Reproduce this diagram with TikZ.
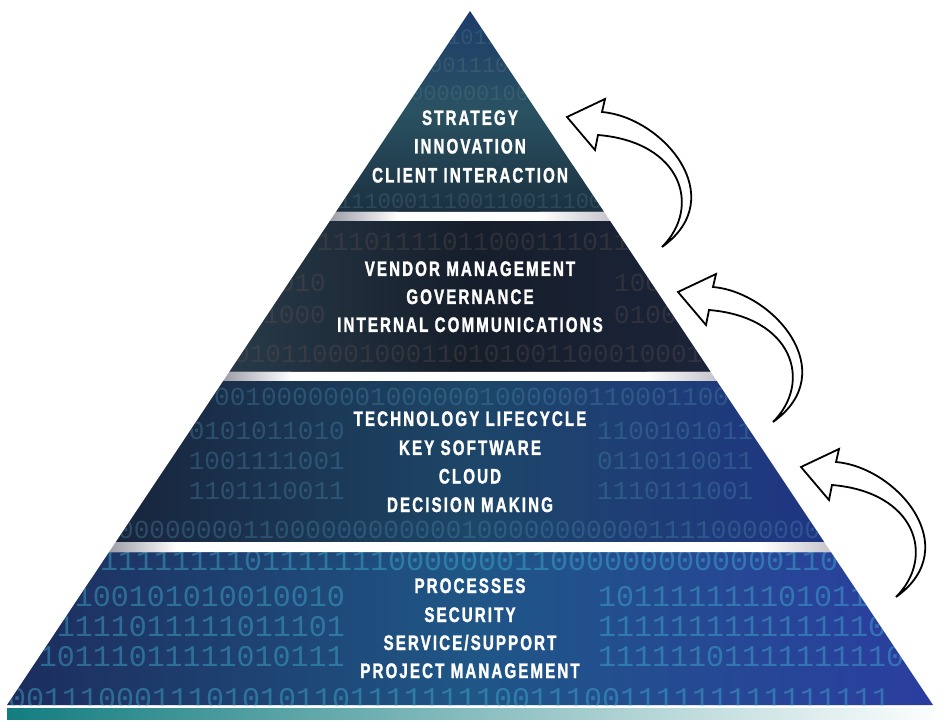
\documentclass[tikz,border=0pt]{standalone}
\usepackage{fontspec}
\newfontfamily\labelfont{Liberation Sans}[FakeStretch=0.72,LetterSpace=10,BoldFeatures={FakeBold=1.5}]
\newfontfamily\bitfont{Liberation Mono}
\definecolor{bandAtop}{HTML}{1D3C6B}
\definecolor{bandAmid}{HTML}{2A5262}
\definecolor{bandAbot}{HTML}{1B3040}
\definecolor{bandBleft}{HTML}{283B4A}
\definecolor{bandBmid}{HTML}{161E2B}
\definecolor{bandBright}{HTML}{1B2439}
\definecolor{bandCleft}{HTML}{18243C}
\definecolor{bandCmid}{HTML}{1D4668}
\definecolor{bandCright}{HTML}{1F3584}
\definecolor{bandDleft}{HTML}{1C2C5C}
\definecolor{bandDmid}{HTML}{1F5686}
\definecolor{bandDright}{HTML}{2B3DA0}
\definecolor{bitsA}{HTML}{5A8088}
\definecolor{bitsB}{HTML}{6A5652}
\definecolor{bitsC}{HTML}{4A86A8}
\definecolor{bitsD}{HTML}{46B8D8}
\definecolor{tealbar}{HTML}{137D80}
\definecolor{gapgrey}{HTML}{9A9AA6}
\tikzset{
  lbl/.style={text=white,font=\labelfont\bfseries\fontsize{21}{21}\selectfont,anchor=base,inner sep=0pt},
  bitrow/.style={font=\bitfont\fontsize{#1}{#1}\selectfont,anchor=base west,inner sep=0pt},
  bitleft/.style={font=\bitfont\fontsize{#1}{#1}\selectfont,anchor=base east,inner sep=0pt},
  arrowline/.style={draw=black,line width=1.8pt,fill=white,line join=miter},
  uparrow/.pic={
    \draw[arrowline] (0,0) -- (38,-18) -- (35,-5)
      .. controls (95,0) and (165,80) .. (95,130)
      .. controls (135,90) and (115,25) .. (31,18)
      -- (28,33) -- cycle;
  }
}
\begin{document}
\begin{tikzpicture}[x=1pt,y=-1pt]
\useasboundingbox (0,0) rectangle (946,727);
\fill[white] (0,0) rectangle (946,727);
% corner coordinates
\coordinate (apex) at (470,11);
\coordinate (b1l) at (335.9,212); \coordinate (b1r) at (604.1,212);
\coordinate (t2l) at (329.9,221); \coordinate (t2r) at (610.1,221);
\coordinate (b2l) at (229.2,372); \coordinate (b2r) at (710.8,372);
\coordinate (t3l) at (223.2,381); \coordinate (t3r) at (716.8,381);
\coordinate (b3l) at (115.8,542); \coordinate (b3r) at (824.2,542);
\coordinate (t4l) at (109.1,552); \coordinate (t4r) at (830.9,552);
\coordinate (bl) at (7,705); \coordinate (br) at (933,705);

% band 1
\begin{scope}
\clip (apex) -- (b1r) -- (b1l) -- cycle;
\shade[top color=bandAtop,bottom color=bandAbot,middle color=bandAmid] (330,11) rectangle (610,212);
\begin{scope}[opacity=0.3,text=bitsA]
\node[bitrow=22] (ra1) at (447,45) {1011};
\node[bitrow=22] (ra2) at (429,73) {001110};
\node[bitrow=22] (ra3) at (410,101) {000000100};
\node[bitrow=22] (ra4) at (338,209) {11100011100110011100};
\end{scope}
\end{scope}

% band 2
\begin{scope}
\clip (t2l) -- (t2r) -- (b2r) -- (b2l) -- cycle;
\shade[left color=bandBleft,right color=bandBright,middle color=bandBmid] (220,221) rectangle (720,372);
\begin{scope}[opacity=0.3,text=bitsB]
\node[bitrow=26] (rb1) at (317,251) {11101111011000111011};
\node[bitleft=26] (rb2) at (326,292) {010};
\node[bitrow=26] (rb3) at (614,292) {10010};
\node[bitleft=26] (rb4) at (326,324) {1000};
\node[bitrow=26] (rb5) at (614,324) {010001};
\node[bitrow=26] (rb6) at (234,363) {010110001000110101001100010001};
\end{scope}
\end{scope}

% band 3
\begin{scope}
\clip (t3l) -- (t3r) -- (b3r) -- (b3l) -- cycle;
\shade[left color=bandCleft,right color=bandCright,middle color=bandCmid] (110,381) rectangle (830,542);
\begin{scope}[opacity=0.38,text=bitsC]
\node[bitrow=26] (rc1) at (214,406) {001000000010000001000000110001100};
\node[bitleft=26] (rc2) at (345,440) {0101011010};
\node[bitrow=26] (rc3) at (597,440) {1100101011};
\node[bitleft=26] (rc4) at (345,470) {1001111001};
\node[bitrow=26] (rc5) at (597,470) {0110110011};
\node[bitleft=26] (rc6) at (345,500) {1101110011};
\node[bitrow=26] (rc7) at (597,500) {1110111001};
\node[bitrow=26] (rc8) at (118,538) {000000001100000000000010000000000011110000000};
\end{scope}
\end{scope}

% band 4
\begin{scope}
\clip (t4l) -- (t4r) -- (br) -- (bl) -- cycle;
\shade[left color=bandDleft,right color=bandDright,middle color=bandDmid] (0,552) rectangle (940,705);
\begin{scope}[opacity=0.42,text=bitsD]
\node[bitrow=30] (rd1) at (100,570) {11111111011111110000000110000000000000110};
\node[bitleft=30] (rd2) at (345,606) {100101010010010};
\node[bitrow=30] (rd3) at (598,606) {101111111101011};
\node[bitleft=30] (rd4) at (345,636) {1111011111011101};
\node[bitrow=30] (rd5) at (598,636) {1111111111111110};
\node[bitleft=30] (rd6) at (345,666) {10111011111010111};
\node[bitrow=30] (rd7) at (598,666) {11111101111111110};
\node[bitrow=30] (rd8) at (8,708) {0011100011101010110111111110011100111111111111111};
\end{scope}
\end{scope}

% white gaps with grey ends
\foreach \ul/\ur/\ll/\lr in {b1l/b1r/t2l/t2r,b2l/b2r/t3l/t3r,b3l/b3r/t4l/t4r}{
  \begin{scope}
    \clip (\ul) -- (\ur) -- (\lr) -- (\ll) -- cycle;
    \fill[white] (0,0) rectangle (946,727);
    \path (\ll) coordinate (gl) (\lr) coordinate (gr);
    \shade[left color=gapgrey,right color=white] (gl) ++(-2,-12) rectangle ++(70,14);
    \shade[left color=white,right color=gapgrey!60] (gr) ++(-70,-12) rectangle ++(72,14);
  \end{scope}
}

% teal bar
\shade[left color=tealbar,right color=white] (7,708) rectangle (946,719);

% labels
\node[lbl] (strategy) at (470,125) {STRATEGY};
\node[lbl] (innovation) at (470,153.5) {INNOVATION};
\node[lbl] (client) at (470,182.5) {CLIENT INTERACTION};

\node[lbl] (vendor) at (470,276) {VENDOR MANAGEMENT};
\node[lbl] (governance) at (470,304) {GOVERNANCE};
\node[lbl] (internal) at (470,332) {INTERNAL COMMUNICATIONS};

\node[lbl] (techlife) at (470,426) {TECHNOLOGY LIFECYCLE};
\node[lbl] (keysoft) at (470,455) {KEY SOFTWARE};
\node[lbl] (cloud) at (470,483.5) {CLOUD};
\node[lbl] (decision) at (470,512) {DECISION MAKING};

\node[lbl] (processes) at (470,593) {PROCESSES};
\node[lbl] (security) at (470,622) {SECURITY};
\node[lbl] (service) at (470,650) {SERVICE/SUPPORT};
\node[lbl] (project) at (470,678) {PROJECT MANAGEMENT};

% curved arrows
\pic at (567,117) {uparrow};
\pic at (678,292) {uparrow};
\pic at (801,467) {uparrow};
\end{tikzpicture}
\end{document}
